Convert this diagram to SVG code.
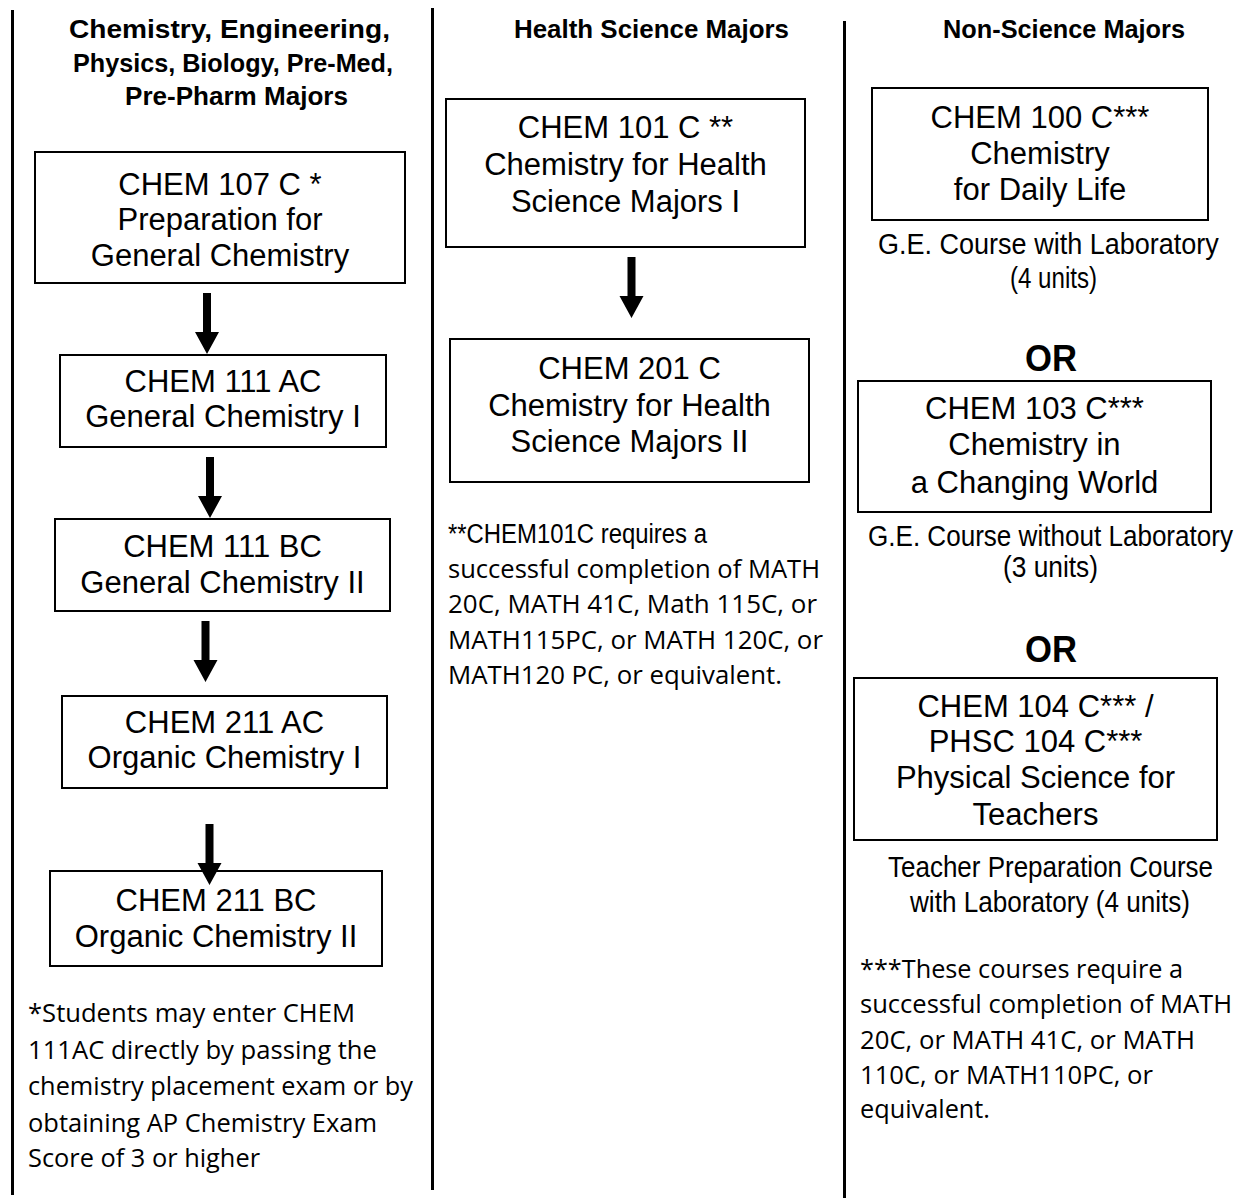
<svg xmlns="http://www.w3.org/2000/svg" xmlns:xlink="http://www.w3.org/1999/xlink" width="1248" height="1198" viewBox="0 0 1248 1198">
<style>
  .bg { fill: #ffffff; }
  .divider { stroke: #000; stroke-width: 3; fill: none; }
  .box { fill: #ffffff; stroke: #000; stroke-width: 2; }
  .head { font-family: "Liberation Sans Narrow", "Liberation Sans", Arial, sans-serif; font-weight: bold; font-size: 26px; fill: #000; }
  .course { font-family: "Liberation Sans", Arial, sans-serif; font-size: 31px; fill: #000; text-anchor: middle; }
  .cap { font-family: "Liberation Sans", Arial, sans-serif; font-size: 30px; fill: #000; }
  .narrow { font-family: "Liberation Sans", Arial, sans-serif; font-size: 27px; fill: #000; }
  .or { font-family: "Liberation Sans", Arial, sans-serif; font-weight: bold; font-size: 36px; fill: #000; }
  .note { font-family: "Open Sans", "Noto Sans", sans-serif; font-size: 25px; fill: #000; }
  .arrow { fill: #000; }
</style>
<defs>
  <path id="arrow" d="M-4,0 H4 V39 H12 L0,61 L-12,39 H-4 Z"/>
</defs>
<rect class="bg" x="0" y="0" width="1248" height="1198"/>

<g id="dividers">
  <line class="divider" x1="12.5" y1="10" x2="12.5" y2="1195"/>
  <line class="divider" x1="432.5" y1="8" x2="432.5" y2="1190"/>
  <line class="divider" x1="844.5" y1="21" x2="844.5" y2="1198"/>
</g>

<g id="headers">
  <text class="head" x="69" y="38" textLength="321" lengthAdjust="spacingAndGlyphs">Chemistry, Engineering,</text>
  <text class="head" x="73" y="72" textLength="320" lengthAdjust="spacingAndGlyphs">Physics, Biology, Pre-Med,</text>
  <text class="head" x="125" y="105" textLength="223" lengthAdjust="spacingAndGlyphs">Pre-Pharm Majors</text>
  <text class="head" x="514" y="38" textLength="275" lengthAdjust="spacingAndGlyphs">Health Science Majors</text>
  <text class="head" x="943" y="38" textLength="242" lengthAdjust="spacingAndGlyphs">Non-Science Majors</text>
</g>

<g id="connectors">
  <use class="arrow" xlink:href="#arrow" href="#arrow" x="207" y="293"/>
  <use class="arrow" xlink:href="#arrow" href="#arrow" x="210" y="457"/>
  <use class="arrow" xlink:href="#arrow" href="#arrow" x="205.5" y="621"/>
  <use class="arrow" xlink:href="#arrow" href="#arrow" x="631.5" y="257"/>
</g>

<g id="chem107">
  <rect class="box" x="35" y="152" width="370" height="131"/>
  <text class="course" x="220" y="195">CHEM 107 C *</text>
  <text class="course" x="220" y="230">Preparation for</text>
  <text class="course" x="220" y="266">General Chemistry</text>
</g>

<g id="chem111ac">
  <rect class="box" x="60" y="355" width="326" height="92"/>
  <text class="course" x="223" y="392">CHEM 111 AC</text>
  <text class="course" x="223" y="427">General Chemistry I</text>
</g>

<g id="chem111bc">
  <rect class="box" x="55" y="519" width="335" height="92"/>
  <text class="course" x="222.5" y="557">CHEM 111 BC</text>
  <text class="course" x="222.5" y="593">General Chemistry II</text>
</g>

<g id="chem211ac">
  <rect class="box" x="62" y="696" width="325" height="92"/>
  <text class="course" x="224.5" y="733">CHEM 211 AC</text>
  <text class="course" x="224.5" y="768">Organic Chemistry I</text>
</g>

<g id="chem211bc">
  <rect class="box" x="50" y="871" width="332" height="95"/>
  <text class="course" x="216" y="911">CHEM 211 BC</text>
  <text class="course" x="216" y="947">Organic Chemistry II</text>
</g>

<g id="connector-overlap">
  <use class="arrow" xlink:href="#arrow" href="#arrow" x="209.5" y="824"/>
</g>

<g id="note-left">
  <text class="note" x="28" y="1022" textLength="327" lengthAdjust="spacingAndGlyphs">*Students may enter CHEM</text>
  <text class="note" x="28" y="1059" textLength="349" lengthAdjust="spacingAndGlyphs">111AC directly by passing the</text>
  <text class="note" x="28" y="1095" textLength="385" lengthAdjust="spacingAndGlyphs">chemistry placement exam or by</text>
  <text class="note" x="28" y="1132" textLength="349" lengthAdjust="spacingAndGlyphs">obtaining AP Chemistry Exam</text>
  <text class="note" x="28" y="1167" textLength="232" lengthAdjust="spacingAndGlyphs">Score of 3 or higher</text>
</g>

<g id="chem101">
  <rect class="box" x="446" y="99" width="359" height="148"/>
  <text class="course" x="625.5" y="138">CHEM 101 C **</text>
  <text class="course" x="625.5" y="175">Chemistry for Health</text>
  <text class="course" x="625.5" y="212">Science Majors I</text>
</g>

<g id="chem201">
  <rect class="box" x="450" y="339" width="359" height="143"/>
  <text class="course" x="629.5" y="379">CHEM 201 C</text>
  <text class="course" x="629.5" y="416">Chemistry for Health</text>
  <text class="course" x="629.5" y="452">Science Majors II</text>
</g>

<g id="note-middle">
  <text class="narrow" transform="translate(448,543) scale(0.85,1)" x="0" y="0" textLength="304.7" lengthAdjust="spacingAndGlyphs">**CHEM101C requires a</text>
  <text class="note" x="448" y="578" textLength="372" lengthAdjust="spacingAndGlyphs">successful completion of MATH</text>
  <text class="note" x="448" y="613" textLength="369" lengthAdjust="spacingAndGlyphs">20C, MATH 41C, Math 115C, or</text>
  <text class="note" x="448" y="649" textLength="375" lengthAdjust="spacingAndGlyphs">MATH115PC, or MATH 120C, or</text>
  <text class="note" x="448" y="684" textLength="334" lengthAdjust="spacingAndGlyphs">MATH120 PC, or equivalent.</text>
</g>

<g id="chem100">
  <rect class="box" x="872" y="88" width="336" height="132"/>
  <text class="course" x="1040" y="128">CHEM 100 C***</text>
  <text class="course" x="1040" y="164">Chemistry</text>
  <text class="course" x="1040" y="200">for Daily Life</text>
  <text class="cap" transform="translate(878,254) scale(0.85,1)" x="0" y="0" textLength="401" lengthAdjust="spacingAndGlyphs">G.E. Course with Laboratory</text>
  <text class="cap" transform="translate(1010,288) scale(0.85,1)" x="0" y="0" textLength="102.4" lengthAdjust="spacingAndGlyphs">(4 units)</text>
</g>

<g id="or-1">
  <text class="or" x="1025" y="371" textLength="52" lengthAdjust="spacingAndGlyphs">OR</text>
</g>

<g id="chem103">
  <rect class="box" x="858" y="381" width="353" height="131"/>
  <text class="course" x="1034.5" y="419">CHEM 103 C***</text>
  <text class="course" x="1034.5" y="455">Chemistry in</text>
  <text class="course" x="1034.5" y="493">a Changing World</text>
  <text class="cap" transform="translate(868,546) scale(0.85,1)" x="0" y="0" textLength="429.4" lengthAdjust="spacingAndGlyphs">G.E. Course without Laboratory</text>
  <text class="cap" transform="translate(1003,577) scale(0.85,1)" x="0" y="0" textLength="111.8" lengthAdjust="spacingAndGlyphs">(3 units)</text>
</g>

<g id="or-2">
  <text class="or" x="1025" y="662" textLength="52" lengthAdjust="spacingAndGlyphs">OR</text>
</g>

<g id="chem104">
  <rect class="box" x="854" y="678" width="363" height="162"/>
  <text class="course" x="1035.5" y="717">CHEM 104 C*** /</text>
  <text class="course" x="1035.5" y="752">PHSC 104 C***</text>
  <text class="course" x="1035.5" y="788">Physical Science for</text>
  <text class="course" x="1035.5" y="825">Teachers</text>
  <text class="cap" transform="translate(888,877) scale(0.85,1)" x="0" y="0" textLength="382.4" lengthAdjust="spacingAndGlyphs">Teacher Preparation Course</text>
  <text class="cap" transform="translate(910,912) scale(0.85,1)" x="0" y="0" textLength="329.4" lengthAdjust="spacingAndGlyphs">with Laboratory (4 units)</text>
</g>

<g id="note-right">
  <text class="note" x="860" y="978" textLength="323" lengthAdjust="spacingAndGlyphs">***These courses require a</text>
  <text class="note" x="860" y="1013" textLength="372" lengthAdjust="spacingAndGlyphs">successful completion of MATH</text>
  <text class="note" x="860" y="1049" textLength="335" lengthAdjust="spacingAndGlyphs">20C, or MATH 41C, or MATH</text>
  <text class="note" x="860" y="1084" textLength="293" lengthAdjust="spacingAndGlyphs">110C, or MATH110PC, or</text>
  <text class="note" x="860" y="1118" textLength="130" lengthAdjust="spacingAndGlyphs">equivalent.</text>
</g>
</svg>
